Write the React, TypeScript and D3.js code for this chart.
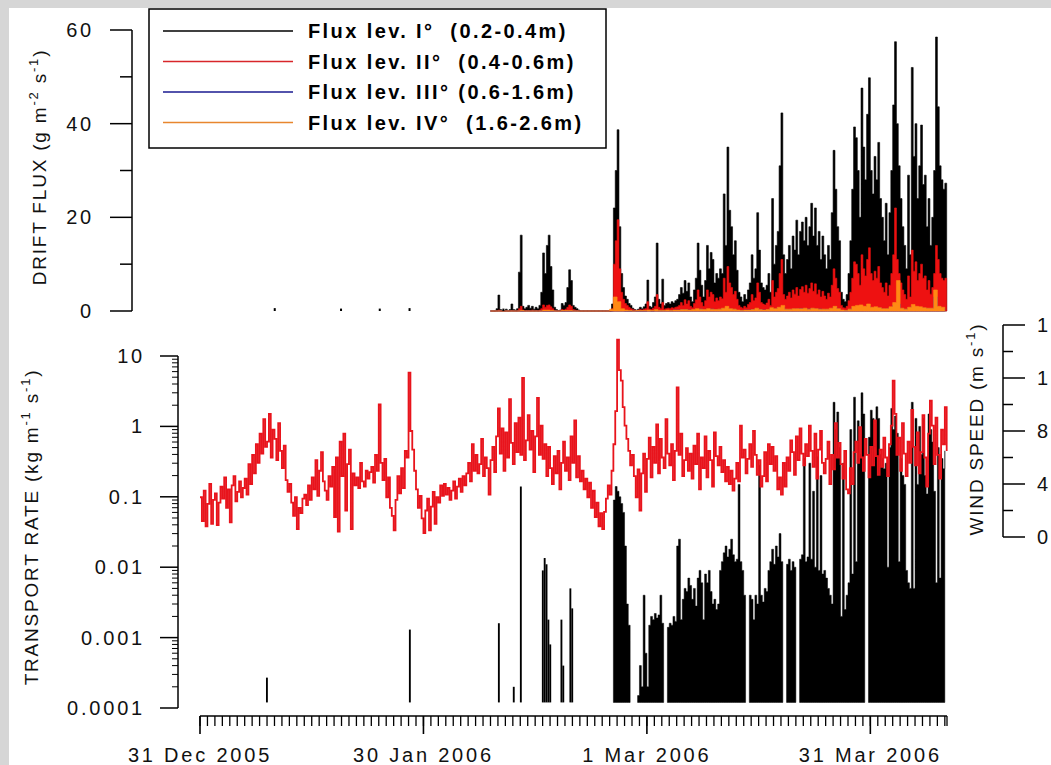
import * as d3 from "d3";

const DAY = 86400000;
const START = Date.UTC(2005, 11, 31);
const END = Date.UTC(2006, 3, 10, 7);
const STEP = 0.25; // 6-hourly samples

// wind speed (m s-1), every 6 h from 31 Dec 2005
const windSpeed = [
  3.0, 1.2, 3.5, 0.8, 2.5, 4.0, 1.0, 2.8, 3.3, 0.9, 2.6, 3.8, 2.9, 4.5, 2.2, 3.6,
  1.1, 3.9, 4.6, 2.7, 3.4, 4.2, 3.0, 3.7, 4.4, 3.2, 5.5, 4.0, 6.2, 4.8, 7.0, 5.6,
  7.8, 6.3, 8.9, 6.8, 7.2, 9.3, 6.0, 8.1, 7.4, 5.8, 8.6, 6.5, 5.2, 6.9, 4.3, 3.4,
  4.0, 2.6, 1.6, 3.0, 0.6, 2.2, 1.8, 2.9, 3.2, 2.4, 3.9, 2.8, 4.5, 3.6, 5.8, 3.1,
  5.0, 6.4, 4.2, 3.5, 2.8, 4.6, 3.8, 5.3, 1.5, 6.0, 0.4, 7.2, 4.6, 7.8, 2.0, 5.5,
  6.6, 0.6, 4.8, 3.9, 4.5, 3.7, 5.6, 4.2, 3.8, 5.0, 4.4, 4.9, 5.3, 4.1, 6.2, 5.0,
  10.0, 5.6, 4.3, 5.9, 3.0, 4.5, 2.2, 1.6, 0.5, 2.8, 4.6, 3.3, 5.2, 3.7, 6.5, 6.0,
  12.4, 8.0, 6.6, 5.0, 3.6, 2.2, 3.1, 1.4, 0.3, 2.0, 2.9, 0.5, 2.3, 3.4, 1.0, 3.0,
  2.6, 3.9, 3.1, 4.0, 3.2, 3.7, 2.8, 3.5, 4.2, 2.9, 3.8, 4.4, 3.4, 4.6, 3.9, 4.8,
  5.6, 4.2, 7.0, 5.0, 6.2, 4.8, 5.5, 7.4, 4.6, 6.0, 5.2, 3.2, 5.8, 6.8, 4.9, 7.6,
  9.7, 6.3, 8.2, 5.0, 7.9, 6.0, 10.4, 7.1, 5.5, 8.6, 6.4, 9.0, 6.2, 12.0, 5.8, 7.3,
  9.2, 6.6, 8.0, 4.9, 7.6, 10.5, 6.2, 8.4, 5.9, 7.0, 4.6, 6.8, 5.2, 4.0, 6.1, 4.8,
  6.5, 3.6, 5.6, 7.2, 5.0, 6.0, 4.3, 7.6, 5.6, 8.8, 4.5, 6.1, 4.2, 5.0, 3.6, 4.4,
  3.0, 4.1, 2.2, 3.5, 1.5, 2.6, 0.8, 1.8, 0.6, 1.9, 2.9, 3.9, 3.2, 5.0, 7.0, 9.5,
  14.9, 12.6, 11.8, 9.8, 8.4, 7.4, 6.5, 5.4, 6.2, 4.6, 3.0, 5.1, 2.0, 4.8, 6.3, 3.4,
  5.9, 7.5, 4.5, 6.8, 5.6, 8.5, 4.8, 7.4, 6.0, 5.2, 8.9, 6.3, 5.4, 7.0, 4.3, 6.5,
  11.3, 6.2, 7.8, 4.6, 5.8, 6.7, 5.0, 6.3, 4.4, 6.9, 5.5, 7.8, 3.6, 6.0, 5.2, 7.6,
  4.5, 6.5, 5.8, 3.8, 7.9, 6.1, 5.4, 6.8, 4.9, 5.8, 4.2, 5.3, 4.0, 5.0, 3.5, 4.4,
  5.6, 4.2, 8.4, 6.0, 6.6, 4.8, 5.9, 7.0, 5.3, 8.0, 6.2, 4.7, 5.8, 3.8, 4.6, 6.4,
  4.2, 7.0, 5.5, 6.8, 5.0, 6.1, 3.6, 4.5, 3.2, 5.6, 3.8, 6.0, 5.0, 7.3, 6.4, 4.7,
  7.6, 5.8, 8.2, 6.3, 5.4, 7.0, 6.1, 8.4, 6.5, 5.3, 7.8, 4.4, 6.6, 8.0, 5.6, 4.8,
  5.9, 7.2, 4.0, 6.2, 5.1, 8.6, 6.0, 7.1, 5.5, 4.4, 6.5, 3.6, 3.3, 5.2, 4.0, 6.4,
  7.2, 5.6, 8.3, 6.0, 5.0, 7.4, 6.2, 4.5, 6.8, 5.4, 8.8, 6.1, 4.7, 6.6, 5.3, 7.5,
  6.0, 4.6, 7.0, 8.4, 11.8, 9.3, 6.2, 7.5, 5.0, 8.6, 6.3, 4.6, 7.2, 5.6, 9.6, 6.8,
  5.4, 7.9, 4.8, 6.4, 9.2, 6.0, 3.8, 7.8, 10.3, 8.4, 5.5, 9.0, 6.2, 4.4, 8.1, 7.0,
  9.8, 6.5,
];

// transport rate (kg m-1 s-1): isolated early events
const earlyRateDay = [8.86, 28.05, 40.0, 42.0, 42.95, 45.9, 46.15, 46.4, 46.65, 46.9, 48.4, 48.65, 49.6, 49.85];
const earlyRate = [0.00027, 0.0013, 0.0016, 0.0002, 0.14, 0.009, 0.0135, 0.011, 0.0018, 0.0008, 0.0018, 0.0004, 0.005, 0.0026];

// transport rate, every 6 h from day 55.5
const rateStartDay = 55.5;
const rate = [
  0.09, 0.14, 0.12, 0.1, 0.08, 0.06, 0.02, 0.003, 0.0015, 0.0009, 0, 0,
  0, 0.00015, 0.0004, 0.0002, 0.004, 0.0006, 0.0002, 0.0015, 0.002, 0.0018, 0.0022, 0.0019,
  0.0021, 0.004, 0.0016, 0.0011, 0, 0.0014, 0.0016, 0.0015, 0.002, 0.0017, 0.02, 0.025,
  0.0018, 0.0035, 0.005, 0.0045, 0.007, 0.0055, 0.0035, 0.005, 0.0028, 0.007, 0.009, 0.006,
  0.0018, 0.008, 0.006, 0.009, 0.0045, 0.003, 0.0035, 0.0025, 0.003, 0.009, 0.012, 0.016,
  0.02, 0.014, 0.018, 0.025, 0.015, 0.012, 0.013, 0.15, 0.012, 0.009, 0.004, 0.0025,
  0, 0.004, 0.0035, 0.0018, 0.004, 0.003, 0.28, 0.004, 0.0032, 0.005, 0.0045, 0.009,
  0.012, 0.018, 0.011, 0.02, 0.014, 0.03, 0.012, 0.009, 0, 0.011, 0.013, 0.009,
  0.012, 0.01, 0.007, 0, 0.013, 0.015, 0.35, 0.012, 0.014, 0.3, 0.013, 0.12,
  0.01, 0.37, 0.009, 0.2, 0.008, 0.009, 0.007, 0.005, 0.004, 0.003, 2.2, 0.9,
  1.6, 0.5, 0.002, 0.3, 0.0025, 0.004, 0.006, 0.9, 0.008, 2.6, 0.012, 1.2,
  0.4, 3.0, 1.5, 0.9, 0, 0.7, 1.7, 1.3, 0.8, 1.9, 1.3, 0.4,
  0.35, 0.25, 0.3, 0.01, 0.5, 1.8, 0.9, 1.4, 0.8, 0.012, 0.35, 0.2,
  0.15, 0.009, 0.006, 0.005, 2.2, 0.005, 1.3, 0.15, 1.0, 0.4, 1.3, 0.2,
  0.11, 1.5, 0.9, 0.6, 0.12, 0.006, 0.5, 0.007, 0.35, 0.25, 0.45,
];

// drift flux (g m-2 s-1), every 6 h from day 39
const fluxStartDay = 39;
const fluxLev1 = [
  0, 0, 0, 0.5, 3.4, 0.3, 0, 0, 0.4, 0, 0.3, 1.5, 0.3, 0.2, 0.5, 8.3,
  16.2, 1.0, 0.5, 0.8, 1.2, 0.6, 1.0, 0.4, 0.8, 0.5, 1.2, 4.0, 12.4, 8.0, 14.0, 16.2,
  9.5, 4.5, 0.8, 0.3, 0.1, 0.2, 1.6, 1.2, 1.8, 5.0, 8.8, 6.5, 1.2, 0.8, 0.5, 0.2,
  0, 0, 0, 0, 0, 0, 0, 0, 0, 0, 0, 0, 0, 0, 0, 0,
  0, 1.5, 22, 30, 38.7, 18, 8, 5, 3.2, 2.5, 1.6, 1.2, 0.6, 0.3, 0.2, 0.4,
  0.8, 0.5, 0.9, 1.5, 6.6, 1.0, 0.8, 1.8, 3.0, 14.5, 2.5, 1.5, 6.8, 1.2, 1.6, 1.8,
  1.5, 2.0, 1.7, 2.2, 2.5, 3.5, 5.0, 3.8, 6.5, 4.2, 6.0, 3.0, 2.0, 4.5, 7.0, 14.5,
  8.7, 5.5, 3.0, 6.5, 14.0, 9.0, 12.5, 11.0, 6.0, 8.0, 7.0, 9.0, 8.0, 25.0, 14.0, 35.0,
  21.5, 18.0, 12.0, 15.0, 8.7, 4.0, 3.0, 2.0, 3.5, 2.5, 4.5, 6.0, 12.0, 7.0, 9.0, 21.0,
  13.0, 6.0, 5.0, 4.5, 5.5, 8.0, 4.0, 24.0, 10.0, 14.0, 17.0, 31.0, 42.3, 12.0, 8.0, 11.0,
  14.0, 9.0, 16.0, 13.0, 19.4, 12.0, 17.0, 19.0, 15.0, 20.0, 14.0, 18.0, 23.0, 16.0, 22.0, 14.0,
  17.0, 11.0, 16.0, 12.0, 9.0, 14.0, 11.0, 21.0, 34.3, 26.0, 18.0, 15.0, 4.0, 2.5, 2.0, 3.5,
  8.0, 15.0, 26.0, 39.3, 37.0, 30.0, 20.0, 47.6, 35.0, 28.0, 42.0, 49.8, 30.0, 25.0, 33.0, 28.0,
  36.0, 24.0, 20.0, 15.0, 23.0, 12.0, 21.0, 30.0, 44.0, 57.5, 40.0, 31.0, 24.0, 18.0, 14.0, 9.0,
  29.0, 12.0, 52.0, 33.0, 40.0, 24.0, 31.0, 39.7, 27.0, 29.0, 18.0, 24.0, 14.0, 20.0, 30.0, 58.5,
  43.6, 31.0, 28.0, 26.0, 27.3, 19.0,
];
const fluxLev2 = [
  0, 0, 0, 0, 0.2, 0, 0, 0, 0, 0, 0, 0.1, 0, 0, 0, 0.5,
  1.0, 0.2, 0, 0.1, 0.1, 0, 0.2, 0, 0.1, 0, 0.2, 0.5, 1.3, 0.8, 1.2, 1.3,
  0.9, 0.5, 0.1, 0, 0, 0, 0.3, 0.2, 0.4, 0.8, 1.3, 1.0, 0.3, 0.2, 0.1, 0,
  0, 0, 0, 0, 0, 0, 0, 0, 0, 0, 0, 0, 0, 0, 0, 0,
  0, 0.5, 10, 15, 19.5, 9, 4, 2.5, 1.6, 1.2, 0.8, 0.5, 0.3, 0.2, 0.1, 0.2,
  0.3, 0.2, 0.4, 0.5, 2.0, 0.4, 0.3, 0.6, 1.0, 3.5, 0.8, 0.5, 1.8, 0.4, 0.5, 0.6,
  0.5, 0.7, 0.6, 0.8, 0.9, 1.2, 1.8, 1.2, 2.4, 1.5, 2.2, 1.0, 0.7, 1.6, 2.4, 4.5,
  3.0, 1.8, 1.0, 2.2, 4.5, 3.0, 4.0, 3.5, 2.0, 2.8, 2.2, 3.0, 2.6, 7.0, 4.0, 9.5,
  6.0, 5.0, 3.5, 4.2, 2.5, 1.2, 0.8, 0.6, 1.0, 0.7, 1.4, 1.8, 3.5, 2.2, 2.8, 6.0,
  4.0, 1.8, 1.5, 1.3, 1.7, 2.5, 1.2, 6.5, 3.0, 4.0, 4.8, 8.0, 11.0, 3.5, 2.5, 3.2,
  4.0, 2.8, 4.5, 3.6, 5.0, 3.2, 4.6, 5.2, 4.0, 5.5, 3.8, 4.8, 6.0, 4.2, 5.8, 3.6,
  4.5, 3.0, 4.2, 3.2, 2.5, 3.8, 3.0, 5.5, 9.0, 7.0, 4.8, 4.0, 1.2, 0.7, 0.6, 1.0,
  2.2, 4.0, 7.0, 10.5, 10.0, 8.0, 5.5, 12.0, 9.0, 7.5, 11.0, 13.5, 8.0, 6.5, 8.5, 7.0,
  9.5, 6.0, 5.0, 4.0, 6.0, 3.2, 5.5, 8.0, 12.0, 22.0, 11.0, 8.0, 6.0, 4.5, 3.5, 2.5,
  7.5, 3.0, 13.0, 8.5, 10.5, 6.5, 8.0, 10.0, 7.0, 7.5, 4.5, 6.5, 3.6, 5.0, 8.0, 14.0,
  11.0, 8.0, 7.0, 6.5, 7.0, 5.0,
];
// every 12 h from day 39
const fluxLev3 = [
  0, 0, 0, 0, 0, 0, 0, 0, 0, 0, 0, 0, 0, 0, 0, 0, 0, 0, 0, 0, 0, 0, 0, 0, 0, 0, 0, 0, 0, 0, 0, 0,
  0, 0.3, 0.4, 0.1, 0, 0, 0, 0, 0, 0, 0.1, 0, 0.2, 0.1, 0.1, 0.1, 0.1, 0.2, 0.2, 0.3,
  0.3, 0.2, 0.2, 0.3, 0.4, 0.2, 0.3, 0.4, 0.2, 0.3, 0.5, 0.6, 0.4, 0.3, 0.1, 0.1, 0.2, 0.2,
  0.3, 0.4, 0.3, 0.2, 0.2, 0.5, 0.4, 0.6, 0.8, 0.3, 0.3, 0.4, 0.4, 0.5, 0.4, 0.4, 0.5, 0.4,
  0.4, 0.3, 0.3, 0.4, 0.8, 0.4, 0.1, 0.1, 0.3, 0.7, 0.8, 0.9, 0.7, 1.0, 0.6, 0.7, 0.6, 0.4,
  0.4, 0.7, 1.2, 1.5, 0.5, 0.3, 0.6, 1.0, 0.8, 0.7, 0.6, 0.5, 0.5, 3.0, 0.8, 0.6, 0.5,
];
const fluxLev4 = [
  0, 0, 0, 0, 0, 0, 0, 0, 0.1, 0, 0, 0, 0, 0, 0.2, 0.2, 0.1, 0, 0, 0.1, 0.1, 0.1, 0, 0, 0, 0, 0, 0, 0, 0, 0, 0,
  0.4, 3.0, 2.0, 0.5, 0.2, 0.1, 0, 0.1, 0.1, 0.1,
  0.2, 0.1, 0.3, 0.1, 0.1, 0.2, 0.1, 0.2, 0.2, 0.3, 0.3, 0.2, 0.3, 0.5, 0.4, 0.3, 0.5, 0.4, 0.3, 0.4,
  0.6, 1.0, 0.5, 0.4, 0.2, 0.1, 0.2, 0.2, 0.3, 0.6, 0.3, 0.2, 0.3, 0.7, 0.5, 0.8, 1.2, 0.4, 0.4, 0.5,
  0.5, 0.5, 0.6, 0.4, 0.6, 0.5, 0.4, 0.4, 0.4, 0.6, 1.0, 0.5, 0.2, 0.1, 0.4, 1.0, 1.2, 1.3, 1.0, 1.5,
  0.8, 0.9, 0.7, 0.5, 0.5, 0.9, 1.8, 6.5, 0.6, 0.4, 0.8, 1.4, 1.0, 0.9, 0.7, 0.6, 0.6, 4.5, 1.0, 0.8,
  0.7,
];
const earlyFluxDay = [9.9, 18.8, 24.0, 28.0, 40.6];
const earlyFlux = [0.4, 0.3, 0.3, 0.4, 0.3];

const legendLabels = [
  "Flux lev. I°  (0.2-0.4m)",
  "Flux lev. II°  (0.4-0.6m)",
  "Flux lev. III° (0.6-1.6m)",
  "Flux lev. IV°  (1.6-2.6m)",
];
const legendColors = ["#000000", "#d8262a", "#1a1a90", "#e8862e"];
const fluxFill = ["#000000", "#ee1111", "#1c1caa", "#ff8a14"];

const dateLabels = ["31 Dec 2005", "30 Jan 2006", "1 Mar 2006", "31 Mar 2006"];
const dateLabelDates = [Date.UTC(2005, 11, 31), Date.UTC(2006, 0, 30), Date.UTC(2006, 2, 1), Date.UTC(2006, 2, 31)];
const fluxTicks = [0, 20, 40, 60];
const fluxMinor = [10, 30, 50];
const rateTicks = [0.0001, 0.001, 0.01, 0.1, 1, 10];
const rateLabels = ["0.0001", "0.001", "0.01", "0.1", "1", "10"];
const windTicks = [0, 4, 8, 12, 16];
const windMinor = [2, 6, 10, 14];

const FONT = "'Liberation Sans', Arial, sans-serif";
const at = (day: number) => new Date(START + day * DAY);

export default function App() {
  const x = d3.scaleUtc().domain([new Date(START), new Date(END)]).range([200, 947]);
  const yFlux = d3.scaleLinear().domain([0, 60]).range([311, 30]);
  const yRate = d3.scaleLog().domain([0.0001, 10]).range([708, 356]);
  const yWind = d3.scaleLinear().domain([0, 16]).range([537, 325]);
  const barBase = 0.00012;

  const fluxArea = (start: number, step: number) =>
    d3
      .area<number>()
      .x((_, i) => x(at(start + i * step)))
      .y0(yFlux(0))
      .y1((v) => yFlux(v))
      .curve(d3.curveStepAfter);

  const windLine = d3
    .line<number>()
    .x((_, i) => x(at(i * STEP)))
    .y((v) => yWind(v))
    .curve(d3.curveStepAfter);

  // dense transport rate as one stepped fill, broken where there is no transport
  const rateArea = d3
    .area<number>()
    .defined((v) => v > barBase)
    .x((_, i) => x(at(rateStartDay + i * STEP)))
    .y0(yRate(barBase))
    .y1((v) => yRate(Math.max(v, barBase)))
    .curve(d3.curveStepAfter);

  const minorLog: number[] = [];
  for (let e = -4; e <= 0; e++) for (let k = 2; k <= 9; k++) minorLog.push(k * Math.pow(10, e));

  const days = d3.utcDay.range(new Date(START), new Date(END));
  const tickStyle = { fontFamily: FONT, fontSize: 20, letterSpacing: 2.8, fill: "#111" } as const;

  const fluxSeries = [
    { values: fluxLev1, step: STEP, color: fluxFill[0] },
    { values: fluxLev2, step: STEP, color: fluxFill[1] },
    { values: fluxLev3, step: 0.5, color: fluxFill[2] },
    { values: fluxLev4, step: 0.5, color: fluxFill[3] },
  ];

  return (
    <svg
      width={1051}
      height={765}
      style={{ position: "absolute", left: 0, top: 0, display: "block" }}
    >
      <rect x={0} y={0} width={1051} height={765} fill="#d6d6d6" />
      <rect x={9} y={8} width={1042} height={757} fill="#ffffff" />

      {/* top panel: drift flux */}
      {fluxSeries.map((s, i) => (
        <path
          key={i}
          d={fluxArea(fluxStartDay, s.step)(s.values) || ""}
          fill={s.color}
          stroke={s.color}
          strokeWidth={0.6}
        />
      ))}
      {earlyFluxDay.map((d, i) => (
        <rect key={i} x={x(at(d))} y={yFlux(earlyFlux[i]) - 1} width={2} height={yFlux(0) - yFlux(earlyFlux[i]) + 1} fill="#000" />
      ))}
      <g stroke="#000" strokeWidth={1.5}>
        <line x1={132} x2={132} y1={yFlux(60)} y2={yFlux(0)} />
        {fluxTicks.map((t) => (
          <line key={t} x1={110} x2={132} y1={yFlux(t)} y2={yFlux(t)} />
        ))}
        {fluxMinor.map((t) => (
          <line key={t} x1={120} x2={132} y1={yFlux(t)} y2={yFlux(t)} />
        ))}
      </g>
      {fluxTicks.map((t) => (
        <text key={t} x={94} y={yFlux(t) + 7} textAnchor="end" {...tickStyle}>
          {t}
        </text>
      ))}
      <text
        transform="translate(46,167) rotate(-90)"
        textAnchor="middle"
        fontFamily={FONT}
        fontSize={19}
        letterSpacing={1.8}
        fill="#111"
      >
        DRIFT FLUX (g m<tspan dy={-8} fontSize={13}>-2</tspan>
        <tspan dy={8}> s</tspan>
        <tspan dy={-8} fontSize={13}>-1</tspan>
        <tspan dy={8}>)</tspan>
      </text>

      {/* legend */}
      <rect x={149} y={9} width={457} height={139} fill="#fff" stroke="#000" strokeWidth={1.5} />
      {legendLabels.map((l, i) => {
        const yy = 31 + i * 30.5;
        return (
          <g key={l}>
            <line x1={163} x2={293} y1={yy} y2={yy} stroke={legendColors[i]} strokeWidth={1.5} />
            <text
              x={308}
              y={yy + 7}
              fontFamily={FONT}
              fontWeight="bold"
              fontSize={20}
              letterSpacing={2.4}
              fill="#000"
              style={{ whiteSpace: "pre" }}
            >
              {l}
            </text>
          </g>
        );
      })}

      {/* bottom panel: transport rate bars, wind speed on top */}
      {earlyRateDay.map((d, i) => {
        const x0 = x(at(d));
        const x1 = x(at(d + STEP));
        return (
          <rect
            key={i}
            x={x0}
            y={yRate(earlyRate[i])}
            width={x1 - x0}
            height={yRate(barBase) - yRate(earlyRate[i])}
            fill="#000"
          />
        );
      })}
      <path d={rateArea(rate) || ""} fill="#000" stroke="#000" strokeWidth={0.5} />
      <path d={windLine(windSpeed) || ""} fill="none" stroke="#e8141c" strokeWidth={1.8} />

      <g stroke="#000" strokeWidth={1.5}>
        <line x1={178} x2={178} y1={yRate(10)} y2={yRate(0.0001)} />
        {rateTicks.map((t) => (
          <line key={t} x1={160} x2={178} y1={yRate(t)} y2={yRate(t)} />
        ))}
      </g>
      <g stroke="#000" strokeWidth={1}>
        {minorLog.map((t) => (
          <line key={t} x1={172} x2={178} y1={yRate(t)} y2={yRate(t)} />
        ))}
      </g>
      {rateTicks.map((t, i) => (
        <text key={t} x={145} y={yRate(t) + 7} textAnchor="end" {...tickStyle}>
          {rateLabels[i]}
        </text>
      ))}
      <text
        transform="translate(38,527) rotate(-90)"
        textAnchor="middle"
        fontFamily={FONT}
        fontSize={19}
        letterSpacing={1.8}
        fill="#111"
      >
        TRANSPORT RATE (kg m<tspan dy={-8} fontSize={13}>-1</tspan>
        <tspan dy={8}> s</tspan>
        <tspan dy={-8} fontSize={13}>-1</tspan>
        <tspan dy={8}>)</tspan>
      </text>

      {/* wind axis */}
      <g stroke="#000" strokeWidth={1.5}>
        <line x1={1003} x2={1003} y1={yWind(16)} y2={yWind(0)} />
        {windTicks.map((t) => (
          <line key={t} x1={1003} x2={1025} y1={yWind(t)} y2={yWind(t)} />
        ))}
        {windMinor.map((t) => (
          <line key={t} x1={1003} x2={1013} y1={yWind(t)} y2={yWind(t)} />
        ))}
      </g>
      {windTicks.map((t) => (
        <text key={t} x={1037} y={yWind(t) + 7} {...tickStyle}>
          {t}
        </text>
      ))}
      <text
        transform="translate(983,429) rotate(-90)"
        textAnchor="middle"
        fontFamily={FONT}
        fontSize={19}
        letterSpacing={1.8}
        fill="#111"
      >
        WIND SPEED (m s<tspan dy={-8} fontSize={13}>-1</tspan>
        <tspan dy={8}>)</tspan>
      </text>

      {/* date axis */}
      <g stroke="#000" strokeWidth={1.3}>
        <line x1={x(new Date(START))} x2={947} y1={716} y2={716} />
        {days.map((d) => (
          <line key={+d} x1={x(d)} x2={x(d)} y1={716} y2={726} />
        ))}
        <line x1={947} x2={947} y1={716} y2={726} />
        {dateLabelDates.map((d) => (
          <line key={d} x1={x(new Date(d))} x2={x(new Date(d))} y1={716} y2={734} strokeWidth={1.6} />
        ))}
      </g>
      {dateLabelDates.map((d, i) => (
        <text key={d} x={x(new Date(d))} y={762} textAnchor="middle" {...tickStyle}>
          {dateLabels[i]}
        </text>
      ))}
    </svg>
  );
}
